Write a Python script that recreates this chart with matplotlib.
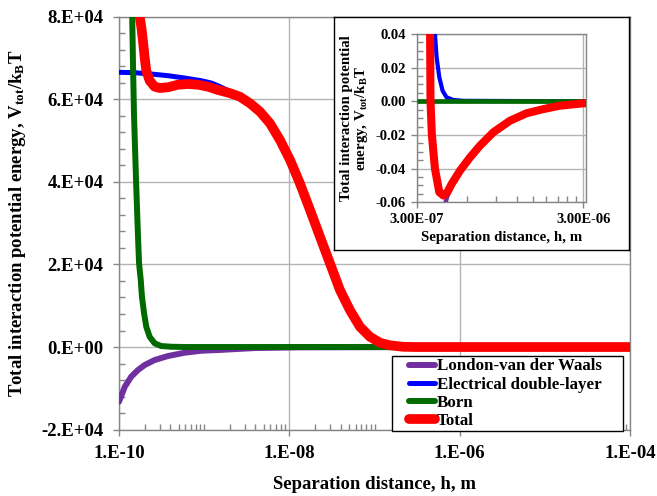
"""
DLVO interaction energy profile: vdW, double layer, Born and total,
with an inset zoomed on the secondary minimum.
"""

import numpy as np
import matplotlib
matplotlib.use('Agg')
import matplotlib.pyplot as plt
from matplotlib.patches import Rectangle
from matplotlib.ticker import FixedLocator, LogLocator, MultipleLocator, NullFormatter

plt.rcParams['font.family'] = ['Liberation Serif', 'DejaVu Serif']
plt.rcParams['font.weight'] = 'bold'
plt.rcParams['mathtext.fontset'] = 'custom'
plt.rcParams['mathtext.rm'] = 'Liberation Serif:bold'
plt.rcParams['mathtext.it'] = 'Liberation Serif:italic:bold'
plt.rcParams['mathtext.bf'] = 'Liberation Serif:bold'
plt.rcParams['mathtext.default'] = 'rm'

# ---- main chart data: separation h [m], energy [kT] ----
vdw_h = [1.0e-10, 1.17e-10, 1.39e-10, 1.67e-10, 2.00e-10, 2.62e-10, 3.76e-10,
         5.90e-10, 9.24e-10, 1.45e-9, 3.94e-9, 1.33e-8, 1e-6, 1e-4]
vdw_v = [-13250, -9620, -7190, -5570, -4360, -3150, -2180,
         -1380, -900, -730, -250, -80, 0, 0]

edl_h = [1.0e-10, 1.53e-10, 2.39e-10, 3.76e-10, 5.90e-10, 9.24e-10, 1.21e-9, 1.45e-9,
         2.0e-9, 2.63e-9, 3.45e-9, 4.52e-9, 5.92e-9, 7.76e-9, 1.02e-8, 1.33e-8,
         1.75e-8, 2.29e-8, 3.00e-8, 3.93e-8, 5.14e-8, 6.74e-8, 8.83e-8, 1.16e-7,
         1.52e-7, 2.17e-7, 3.0e-7, 1e-4]
edl_v = [66530, 66440, 66120, 65710, 65150, 64500, 63940, 63290,
         61900, 60900, 59250, 57150, 54300, 50230, 45370, 39700,
         33220, 26750, 20280, 13820, 8960, 4920, 2500, 1050,
         410, 60, 0, 0]

born_h = [1.40e-10, 1.43e-10, 1.46e-10, 1.50e-10, 1.585e-10, 1.67e-10, 1.72e-10,
          1.80e-10, 1.86e-10, 1.97e-10, 2.09e-10, 2.29e-10, 2.62e-10, 3.13e-10,
          4.11e-10, 6.0e-10, 1e-4]
born_v = [95000, 80000, 68500, 56400, 40400, 27000, 20270,
          16230, 12180, 8160, 4920, 2490, 900, 240,
          70, 0, 0]

tot_h = [1.66e-10, 1.75e-10, 1.83e-10, 1.91e-10, 2.00e-10, 2.09e-10, 2.29e-10,
         2.62e-10, 3.00e-10, 3.76e-10, 4.92e-10, 6.45e-10, 8.46e-10, 1.11e-9,
         1.45e-9, 2.0e-9, 2.63e-9, 3.45e-9, 4.52e-9, 5.92e-9, 7.76e-9, 1.02e-8,
         1.33e-8, 1.75e-8, 2.29e-8, 3.00e-8, 3.93e-8, 5.14e-8, 6.74e-8, 8.83e-8,
         1.16e-7, 1.52e-7, 2.17e-7, 3.0e-7, 1e-6, 1e-4]
tot_v = [86000, 80000, 77430, 74190, 70170, 66920, 64500,
         63050, 62730, 62900, 63530, 63700, 63530, 63050,
         62250, 61500, 60620, 59030, 57000, 54180, 50140, 45300,
         39650, 33180, 26720, 20260, 13800, 8950, 4910, 2490,
         1040, 410, 60, 0, 0, 0]

x_ticks = [1e-10, 1e-8, 1e-6, 1e-4]
x_tick_labels = ['1.E-10', '1.E-08', '1.E-06', '1.E-04']
y_ticks = [-20000, 0, 20000, 40000, 60000, 80000]
y_tick_labels = ['-2.E+04', '0.E+00', '2.E+04', '4.E+04', '6.E+04', '8.E+04']

# ---- inset data ----
in_vdw_h = [4.25e-7, 4.44e-7, 4.58e-7, 4.87e-7, 5.46e-7, 6.27e-7, 7.2e-7, 8.65e-7,
            1.09e-6, 1.37e-6, 1.73e-6, 2.17e-6, 3.0e-6, 3.1e-6]
in_vdw_v = [-0.072, -0.061, -0.0565, -0.0495, -0.0414, -0.0334, -0.0264, -0.0185,
            -0.0116, -0.0072, -0.0047, -0.0027, -0.0013, -0.0012]

in_edl_h = [3.80e-7, 3.86e-7, 3.95e-7, 4.10e-7, 4.29e-7, 4.53e-7, 4.98e-7, 5.72e-7, 3.1e-6]
in_edl_v = [0.06, 0.040, 0.0261, 0.0143, 0.0063, 0.0024, 0.0008, 0.0003, 0.0]

in_born_h = [3.0e-7, 3.1e-6]
in_born_v = [0.0, 0.0]

in_tot_h = [3.58e-7, 3.61e-7, 3.63e-7, 3.70e-7, 3.86e-7, 4.10e-7, 4.34e-7, 4.58e-7,
            4.87e-7, 5.46e-7, 6.27e-7, 7.2e-7, 8.65e-7, 1.09e-6, 1.37e-6, 1.73e-6,
            2.17e-6, 3.0e-6, 3.1e-6]
in_tot_v = [0.06, 0.040, 0.0, -0.020, -0.040, -0.054, -0.056, -0.054,
            -0.049, -0.0412, -0.0333, -0.0263, -0.0184, -0.0115, -0.0071, -0.0046,
            -0.0026, -0.0012, -0.0011]

in_x_ticks = [3e-7, 3e-6]
in_x_tick_labels = ['3.00E-07', '3.00E-06']
in_y_ticks = [-0.06, -0.04, -0.02, 0.0, 0.02, 0.04]
in_y_tick_labels = ['-0.06', '-0.04', '-0.02', '0.00', '0.02', '0.04']

C_VDW, C_EDL, C_BORN, C_TOT = '#7030a0', '#0000ff', '#006a00', '#ff0000'
SPINE = '#868686'
GRID = '#b4b4b4'

W, H = 657, 496
fig = plt.figure(figsize=(W / 100, H / 100), dpi=100)
fig.patch.set_facecolor('white')

# ---- main axes ----
ax = fig.add_axes([119 / W, (H - 429.6) / H, 511 / W, 412.9 / H])
ax.plot(vdw_h, vdw_v, color=C_VDW, lw=4.3, solid_capstyle='round', solid_joinstyle='round',
        label='London-van der Waals', zorder=3)
ax.plot(edl_h, edl_v, color=C_EDL, lw=3.6, solid_capstyle='round', solid_joinstyle='round',
        label='Electrical double-layer', zorder=4)
ax.plot(born_h, born_v, color=C_BORN, lw=4.3, solid_capstyle='round', solid_joinstyle='round',
        label='Born', zorder=5)
ax.plot(tot_h, tot_v, color=C_TOT, lw=7, solid_capstyle='round', solid_joinstyle='round',
        label='Total', zorder=6)

ax.set_xscale('log')
ax.set_xlim(1e-10, 1e-4)
ax.set_ylim(-20000, 80000)
ax.xaxis.set_major_locator(FixedLocator(x_ticks))
ax.set_xticklabels(x_tick_labels)
ax.xaxis.set_minor_locator(LogLocator(base=10, subs=np.arange(1, 10), numticks=100))
ax.xaxis.set_minor_formatter(NullFormatter())
ax.set_yticks(y_ticks)
ax.set_yticklabels(y_tick_labels)
ax.yaxis.set_minor_locator(MultipleLocator(4000))
ax.tick_params(which='major', direction='out', length=4, width=1, color=SPINE, labelsize=13.5, pad=7)
ax.tick_params(which='minor', direction='in', length=4, width=1, color=SPINE)
ax.grid(which='major', color=GRID, lw=1)
ax.set_axisbelow(True)
for s in ax.spines.values():
    s.set_color(SPINE)
    s.set_linewidth(1)

ax.set_xlabel('Separation distance, h, m', fontsize=13.5, fontweight='bold', labelpad=10)
ax.set_ylabel('Total interaction potential energy, V$_{tot}$/k$_{B}$T', fontsize=13.5,
              fontweight='bold', labelpad=10)

# legend: white box drawn separately so the side padding can differ from the row padding
frame = Rectangle(((392 - 119) / 511, (429.6 - 431) / 412.9), 231 / 511, 75.5 / 412.9,
                  transform=ax.transAxes, facecolor='white', edgecolor='black', lw=1,
                  zorder=9, clip_on=False)
ax.add_patch(frame)
leg = ax.legend(loc='upper left', bbox_to_anchor=((409 - 119) / 511, (429.6 - 358.5) / 412.9),
                fontsize=12.2, frameon=False, handlelength=1.55, handletextpad=0.1,
                labelspacing=0.12, borderpad=0, borderaxespad=0)
leg.set_zorder(10)

# ---- inset frame ----
box = fig.add_axes([334 / W, (H - 250) / H, 295 / W, 232.7 / H])
box.set_xticks([])
box.set_yticks([])
box.set_facecolor('white')
for s in box.spines.values():
    s.set_color('black')
    s.set_linewidth(1)

# ---- inset axes ----
ins = fig.add_axes([416.7 / W, (H - 202.3) / H, 169 / W, 168.3 / H])
ins.plot(in_vdw_h, in_vdw_v, color=C_VDW, lw=3.2, solid_capstyle='round', zorder=3)
ins.plot(in_edl_h, in_edl_v, color=C_EDL, lw=3.0, solid_capstyle='round',
         solid_joinstyle='round', zorder=4)
ins.plot(in_born_h, in_born_v, color=C_BORN, lw=3.4, solid_capstyle='butt', zorder=5)
ins.plot(in_tot_h, in_tot_v, color=C_TOT, lw=5.8, solid_capstyle='round',
         solid_joinstyle='round', zorder=6)

ins.set_xscale('log')
ins.set_xlim(3e-7, 3.1e-6)
ins.set_ylim(-0.06, 0.04)
ins.xaxis.set_major_locator(FixedLocator(in_x_ticks))
ins.set_xticklabels(in_x_tick_labels)
ins.xaxis.set_minor_locator(FixedLocator([3e-7 * k for k in range(2, 10)]))
ins.xaxis.set_minor_formatter(NullFormatter())
ins.set_yticks(in_y_ticks)
ins.set_yticklabels(in_y_tick_labels)
ins.yaxis.set_minor_locator(MultipleLocator(0.005))
ins.tick_params(which='major', direction='out', length=4, width=1, color=SPINE, labelsize=10.5, pad=4)
ins.tick_params(which='minor', direction='in', length=4, width=1, color=SPINE)
ins.grid(which='major', color=GRID, lw=1)
ins.set_axisbelow(True)
for s in ins.spines.values():
    s.set_color(SPINE)
    s.set_linewidth(1)

ins.set_xlabel('Separation distance, h, m', fontsize=10.7, fontweight='bold', labelpad=3)
ins.set_ylabel('Total interaction potential\nenergy, V$_{tot}$/k$_{B}$T', fontsize=10.7,
               fontweight='bold', labelpad=4, linespacing=0.95)

fig.savefig('out.png', dpi=100)
